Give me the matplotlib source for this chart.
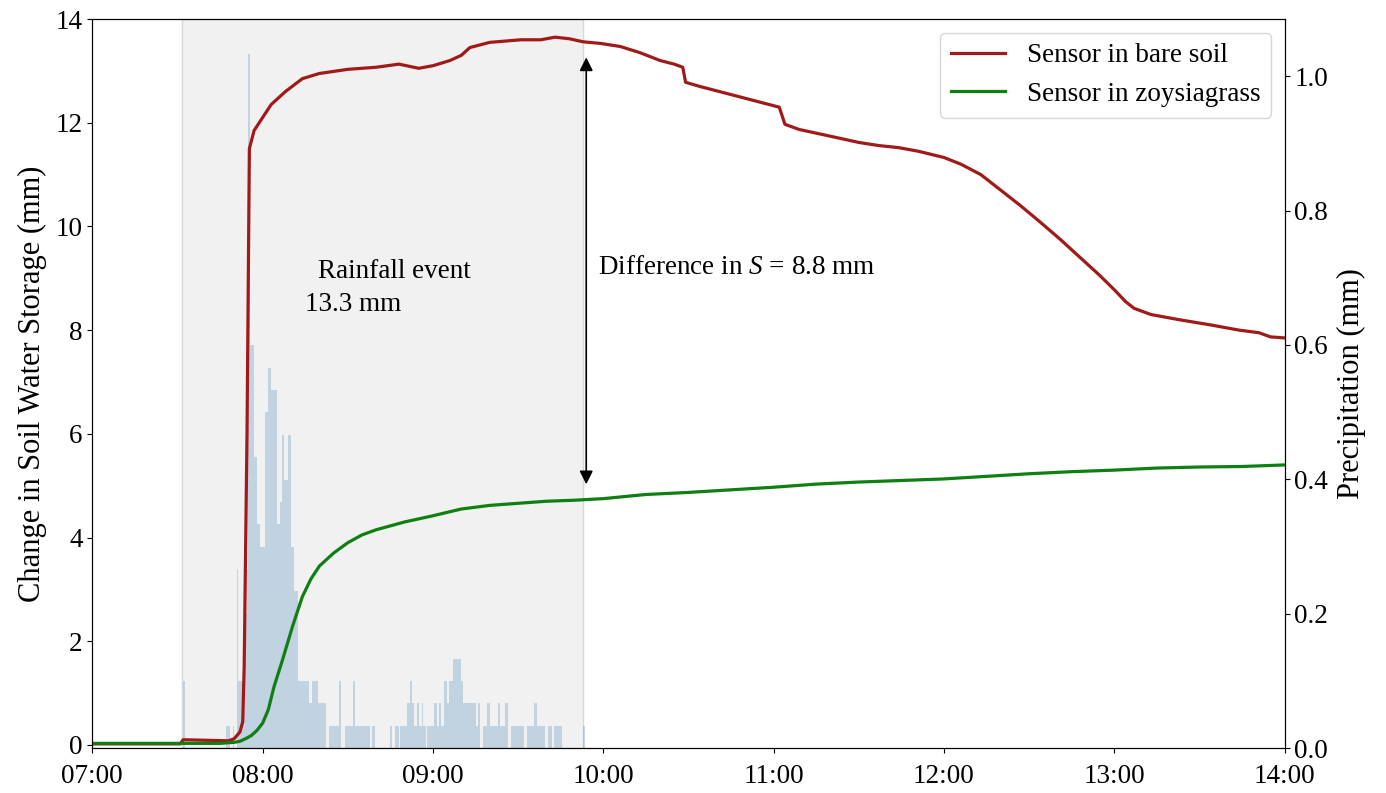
import matplotlib
matplotlib.use("Agg")
import matplotlib.pyplot as plt
import matplotlib.dates as mdates
import numpy as np
import pandas as pd

plt.rcParams["font.family"] = ["Liberation Serif", "DejaVu Serif"]
plt.rcParams["mathtext.fontset"] = "custom"
plt.rcParams["mathtext.rm"] = "Liberation Serif"
plt.rcParams["mathtext.it"] = "Liberation Serif:italic"

DAY = "2020-08-01 "

# change in soil water storage (mm)
bare_time = ["07:00", "07:31", "07:32", "07:48", "07:50", "07:52", "07:53", "07:53:30",
             "07:54:30", "07:55:20", "07:57", "08:00", "08:03", "08:08", "08:14", "08:20",
             "08:30", "08:40", "08:48", "08:55", "09:00", "09:06", "09:10", "09:13", "09:20",
             "09:31", "09:38", "09:43", "09:48", "09:53", "09:59", "10:06", "10:13", "10:20",
             "10:25", "10:28", "10:29", "10:34", "10:41", "10:48", "10:55", "11:02", "11:04",
             "11:09", "11:20", "11:30", "11:37", "11:44", "11:51", "12:00", "12:06", "12:13",
             "12:20", "12:27", "12:34", "12:41", "12:48", "12:55", "13:00", "13:04", "13:07",
             "13:13", "13:23", "13:34", "13:44", "13:51", "13:55", "14:00"]
bare_storage = [0.02, 0.02, 0.1, 0.08, 0.12, 0.25, 0.45, 1.5,
                6.0, 11.5, 11.85, 12.1, 12.35, 12.6, 12.85, 12.95,
                13.03, 13.07, 13.13, 13.05, 13.1, 13.2, 13.3, 13.45, 13.55,
                13.6, 13.6, 13.65, 13.62, 13.56, 13.53, 13.47, 13.35, 13.2,
                13.13, 13.07, 12.78, 12.7, 12.6, 12.5, 12.4, 12.3, 11.97,
                11.87, 11.74, 11.62, 11.56, 11.52, 11.45, 11.33, 11.2, 11.0,
                10.7, 10.4, 10.08, 9.75, 9.4, 9.05, 8.78, 8.55, 8.42,
                8.3, 8.2, 8.1, 8.0, 7.95, 7.87, 7.85]

grass_time = ["07:00", "07:45", "07:50", "07:52", "07:54", "07:56", "07:58", "08:00",
              "08:02", "08:04", "08:07", "08:10:30", "08:14", "08:17", "08:20", "08:25",
              "08:30", "08:35", "08:40", "08:50", "09:00", "09:10", "09:20", "09:30",
              "09:40", "09:50", "10:00", "10:15", "10:30", "10:45", "11:00", "11:15",
              "11:30", "11:45", "12:00", "12:15", "12:30", "12:45", "13:00", "13:15",
              "13:30", "13:45", "14:00"]
grass_storage = [0.03, 0.03, 0.05, 0.07, 0.12, 0.18, 0.28, 0.42,
                 0.68, 1.12, 1.64, 2.28, 2.86, 3.2, 3.45, 3.7,
                 3.9, 4.05, 4.15, 4.3, 4.42, 4.55, 4.62, 4.66,
                 4.7, 4.72, 4.75, 4.83, 4.87, 4.92, 4.97, 5.03,
                 5.07, 5.1, 5.13, 5.18, 5.23, 5.27, 5.3, 5.34,
                 5.36, 5.37, 5.4]

# precipitation, 30 s bins from 07:30, in gauge counts
rain_start = "07:30"
rain_counts = [
    0, 0, 0, 0, 3, 0, 0, 0, 0, 0, 0, 0, 0, 0, 0, 0, 0, 0, 0, 0,
    0, 0, 0, 0, 0, 0, 0, 0, 0, 0, 0, 0, 0, 0, 1, 1, 1, 0, 0, 1,
    0, 0, 8, 3, 3, 3, 3, 4, 6, 8, 31, 18, 18, 18, 13, 13, 10, 10, 9, 9,
    9, 9, 15, 15, 17, 17, 16, 16, 16, 16, 10, 10, 11, 11, 14, 12, 12, 12, 14, 14,
    9, 9, 7, 7, 7, 3, 3, 3, 3, 3, 3, 3, 3, 2, 2, 3, 3, 3, 3, 2,
    2, 2, 2, 2, 2, 0, 0, 1, 1, 1, 1, 1, 1, 1, 3, 0, 0, 0, 1, 1,
    1, 1, 1, 1, 3, 1, 1, 1, 1, 1, 1, 1, 1, 1, 1, 1, 0, 1, 1, 0,
    0, 0, 0, 0, 0, 0, 0, 0, 0, 0, 1, 0, 0, 1, 1, 1, 0, 1, 1, 1,
    1, 1, 2, 2, 3, 2, 2, 1, 1, 2, 1, 1, 2, 1, 1, 0, 1, 1, 1, 1,
    1, 2, 2, 1, 2, 2, 1, 1, 3, 3, 2, 3, 3, 3, 4, 4, 4, 4, 4, 4,
    3, 2, 2, 2, 2, 2, 2, 2, 2, 2, 1, 1, 2, 0, 0, 1, 1, 1, 2, 2,
    1, 1, 1, 1, 1, 1, 2, 1, 1, 1, 1, 2, 2, 0, 0, 1, 1, 1, 1, 1,
    1, 1, 1, 1, 0, 0, 1, 1, 1, 1, 1, 2, 2, 1, 1, 1, 1, 1, 1, 0,
    0, 1, 1, 1, 0, 1, 1, 1, 1, 1, 1, 0, 0, 0, 0, 0, 0, 0, 0, 0,
    0, 0, 0, 0, 0, 0, 1,
]
MM_PER_COUNT = 0.0333
BIN = pd.Timedelta(seconds=30)

event_start, event_end = "07:31:30", "09:53"
arrow_time = "09:54"


def stamp(t):
    return pd.to_datetime(DAY + t)


bare_t = [stamp(t) for t in bare_time]
grass_t = [stamp(t) for t in grass_time]
rain_t = stamp(rain_start) + BIN * np.arange(len(rain_counts))
rain_mm = np.array(rain_counts) * MM_PER_COUNT

FS = 19.5
LFS = 22
RED = "#a11a1a"
GREEN = "#0f7f12"

fig = plt.figure(figsize=(13.86, 7.93), dpi=100)
ax = fig.add_axes([0.0666, 0.0567, 0.8602, 0.9193])
ax2 = ax.twinx()
ax.set_zorder(ax2.get_zorder() + 1)
ax.patch.set_visible(False)

ax2.axvspan(stamp(event_start), stamp(event_end), facecolor="#f1f1f1",
            edgecolor="#d8d8d8", linewidth=1.0, zorder=0)
ax2.bar(mdates.date2num(rain_t), rain_mm, width=30 / 86400, align="edge",
        color="steelblue", alpha=0.28, linewidth=0, zorder=1)

ax.plot(bare_t, bare_storage, color=RED, lw=2.3, label="Sensor in bare soil")
ax.plot(grass_t, grass_storage, color=GREEN, lw=2.3, label="Sensor in zoysiagrass")

# difference arrow between the two curves
xa = mdates.date2num(stamp(arrow_time))
top = np.interp(xa, mdates.date2num(bare_t), bare_storage)
bot = np.interp(xa, mdates.date2num(grass_t), grass_storage)
ax.annotate("", xy=(xa, top), xytext=(xa, bot),
            arrowprops=dict(arrowstyle="<|-|>", color="black", lw=1.2,
                            shrinkA=11, shrinkB=11, mutation_scale=20))
ax.text(stamp("09:58"), 9.2, "Difference in $S$ = 8.8 mm", fontsize=FS,
        va="center", ha="left")
ax.text(stamp("08:19:30"), 9.13, "Rainfall event", fontsize=FS, va="center", ha="left")
ax.text(stamp("08:15"), 8.5, "13.3 mm", fontsize=FS, va="center", ha="left")

ax.set_xlim(stamp("07:00"), stamp("14:00"))
ax.xaxis.set_major_locator(mdates.HourLocator())
ax.xaxis.set_major_formatter(mdates.DateFormatter("%H:%M"))
ax.set_ylim(-0.06, 14)
ax.set_yticks(np.arange(0, 15, 2))
ax2.set_ylim(0, 1.085)
ax2.set_yticks(np.arange(0, 1.01, 0.2))
ax2.yaxis.set_major_formatter(plt.FormatStrFormatter("%.1f"))

ax.set_ylabel("Change in Soil Water Storage (mm)", fontsize=LFS, labelpad=6)
ax2.set_ylabel("Precipitation (mm)", fontsize=LFS, labelpad=6)
ax.tick_params(labelsize=FS)
ax.tick_params(axis="x", pad=8)
ax2.tick_params(labelsize=FS)

ax.legend(loc="upper right", fontsize=FS)

fig.savefig("out.png", dpi=100)
